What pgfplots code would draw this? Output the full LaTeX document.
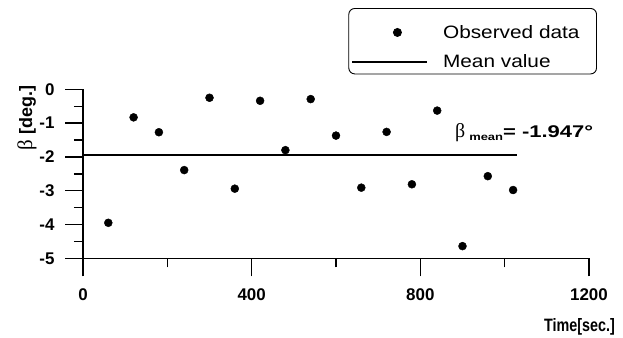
\documentclass[border=0pt]{standalone}
\usepackage{fontspec}
\setmainfont{Liberation Sans}
\newfontfamily\greekfont{Liberation Serif}
\newfontfamily\widefont[FakeStretch=1.16]{Liberation Sans}
\newfontfamily\annfont[FakeStretch=1.3]{Liberation Sans}
\newfontfamily\narrowfont[FakeStretch=0.8]{Liberation Sans}
\usepackage{pgfplots}
\pgfplotsset{compat=1.18}
\begin{document}
\begin{tikzpicture}
\begin{axis}[
  name=ax, at={(0,0)}, anchor=south west,
  scale only axis, width=506bp, height=169bp,
  xmin=0, xmax=1200, ymin=-5, ymax=0,
  axis lines=left, axis line style={-, line width=1.6bp},
  xtick={0,400,800,1200}, ytick={-5,-4,-3,-2,-1,0},
  minor x tick num=1, minor y tick num=1,
  tick align=outside, major tick length=18bp, minor tick length=9bp,
  every tick/.style={black, line width=1.4bp},
  /pgf/number format/assume math mode=true,
  /pgf/number format/1000 sep={},
  xticklabel={\textbf{\pgfmathprintnumber{\tick}}},
  yticklabel={\textbf{\pgfmathprintnumber{\tick}}},
  ticklabel style={font=\fontsize{17}{20}\selectfont},
  xticklabel style={yshift=-9bp},
  yticklabel style={xshift=-7bp},
  clip=false,
  legend cell align=left,
  legend style={at={(rel axis cs:1.0158,1.481)}, anchor=north east,
    draw=black, line width=0.9bp, rounded corners=6bp,
    font=\widefont\fontsize{18}{21}\selectfont,
    inner xsep=3bp, inner ysep=2bp,
    nodes={inner sep=0pt},
    row sep=15bp,
    /tikz/every odd column/.style={column sep=15bp}},
]
% observed drift angle samples
\addplot[only marks, mark=*, mark size=4bp, black,
  legend image code/.code={\path[draw=none] (0bp,0bp) -- (75bp,0bp) (0bp,22bp);
    \fill[black] (45bp,0bp) circle (4bp);}]
  coordinates {
  (60,-3.95) (120,-0.83) (180,-1.27) (240,-2.39) (300,-0.25)
  (360,-2.94) (420,-0.34) (480,-1.80) (540,-0.29) (600,-1.37)
  (660,-2.91) (720,-1.26) (780,-2.81) (840,-0.63) (900,-4.64)
  (960,-2.57) (1020,-2.98)
  };
\addlegendentry{Observed data\hspace*{14bp}}
% mean of the samples
\addplot[black, line width=1.4bp,
  legend image code/.code={\path[draw=none] (0bp,-10bp);
    \draw[line width=1.3bp] (0bp,0bp) -- (75bp,0bp);}]
  coordinates {(0,-1.947) (1030,-1.947)};
\addlegendentry{Mean value}
\node[anchor=base west, font=\annfont\fontsize{17}{19}\selectfont\bfseries, inner sep=0pt]
  at (axis cs:882,-1.44)
  {{\greekfont\mdseries\fontsize{20}{19}\selectfont β}\hspace{4bp}\raisebox{-3bp}{\fontsize{10}{10}\selectfont mean}= -1.947°};
\node[xshift=-56bp, rotate=90, font=\fontsize{18}{19}\selectfont\bfseries, inner sep=0pt]
  at (axis cs:0,-0.85)
  {{\greekfont\mdseries\fontsize{21}{19}\selectfont β}~[deg.]};
\node[anchor=east, font=\narrowfont\fontsize{18}{18}\selectfont\bfseries, inner sep=0pt]
  at (axis cs:1200,-5) [xshift=26bp, yshift=-69bp] {Time[sec.]};
\end{axis}
\pgfresetboundingbox
\path[use as bounding box] (-83bp,-79.7bp) rectangle (540bp,258.3bp);
\end{tikzpicture}
\end{document}
